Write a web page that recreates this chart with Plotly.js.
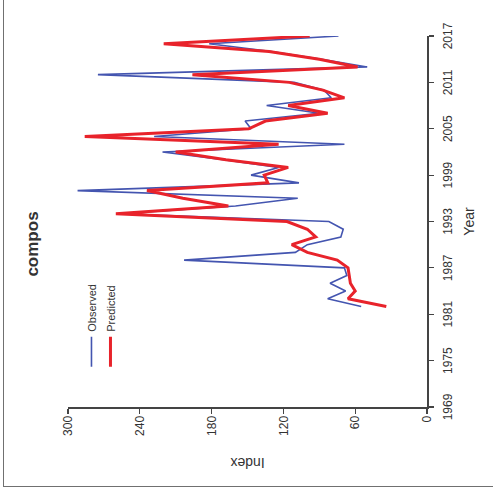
<!DOCTYPE html>
<html>
<head>
<meta charset="utf-8">
<script src="https://cdn.plot.ly/plotly-3.0.1.min.js"></script>
<style>
  html, body { margin: 0; padding: 0; background: #ffffff; overflow: hidden; }
  #frame { position: absolute; left: 3px; top: -2px; width: 492px; height: 489px; border: 1.5px solid #707070; box-sizing: border-box; }
  #plot { position: absolute; left: -2px; top: 2px; width: 497px; height: 493px; transform: rotate(-90deg); transform-origin: 50% 50%; }
</style>
</head>
<body>
<div id="frame"></div>
<div id="plot"></div>
<script>
// Data (Year vs Index)
const years = [1982,1983,1984,1985,1986,1987,1988,1989,1990,1991,1992,1993,1994,1995,1996,1997,1998,1999,2000,2001,2002,2003,2004,2005,2006,2007,2008,2009,2010,2011,2012,2013,2014,2015,2016,2017];
const observed = [55,83,68,81,67,69,203,110,100,72,70,82,256,160,108,292,107,147,124,170,221,69,228,147,152,90,134,80,86,111,275,50,88,130,182,74];
const predicted = [34,66,60,64,65,66,75,100,113,93,100,117,260,166,204,234,133,136,116,168,210,124,286,149,135,83,116,69,87,115,196,58,90,132,220,98];
const yearTicks = [1969,1975,1981,1987,1993,1999,2005,2011,2017];
const indexTicks = [0,60,120,180,240,300];
const seriesNames = ['Observed','Predicted'];

const FONT = '"Liberation Sans", Arial, sans-serif';
const traces = [
  { x: years, y: observed, name: seriesNames[0], type: 'scatter', mode: 'lines',
    line: { color: '#4455b0', width: 1.6 } },
  { x: years, y: predicted, name: seriesNames[1], type: 'scatter', mode: 'lines',
    line: { color: '#e8232b', width: 3 } }
];
const axisCommon = {
  showline: true, linecolor: '#444', linewidth: 1.5,
  ticks: 'outside', ticklen: 5, tickcolor: '#444', tickwidth: 1.2,
  showgrid: false, zeroline: false,
  tickfont: { family: FONT, size: 12, color: '#333' }
};
const layout = {
  width: 497, height: 493,
  margin: { l: 90, r: 36, t: 68, b: 66 },
  paper_bgcolor: 'rgba(0,0,0,0)', plot_bgcolor: 'rgba(0,0,0,0)',
  font: { family: FONT, color: '#333' },
  title: { text: '<b>compos</b>', font: { family: FONT, size: 17, color: '#333' },
           x: 253/497, xref: 'container', xanchor: 'center',
           y: 1 - 32/493, yref: 'container', yanchor: 'middle' },
  xaxis: Object.assign({}, axisCommon, {
    range: [1969, 2017], tickvals: yearTicks, ticktext: yearTicks.map(String),
    ticklabelstandoff: 4,
    title: { text: 'Year', font: { family: FONT, size: 14, color: '#333' }, standoff: 10 }
  }),
  yaxis: Object.assign({}, axisCommon, {
    range: [0, 300], tickvals: indexTicks, ticktext: indexTicks.map(String),
    title: { text: 'Index', font: { family: FONT, size: 14, color: '#333' }, standoff: 18 }
  }),
  showlegend: true,
  legend: { x: 0.095, y: 0.975, xanchor: 'left', yanchor: 'top',
            bgcolor: 'rgba(0,0,0,0)', font: { family: FONT, size: 11, color: '#333' },
            tracegroupgap: 0 }
};
Plotly.newPlot('plot', traces, layout, { displayModeBar: false, staticPlot: true });
</script>
</body>
</html>
